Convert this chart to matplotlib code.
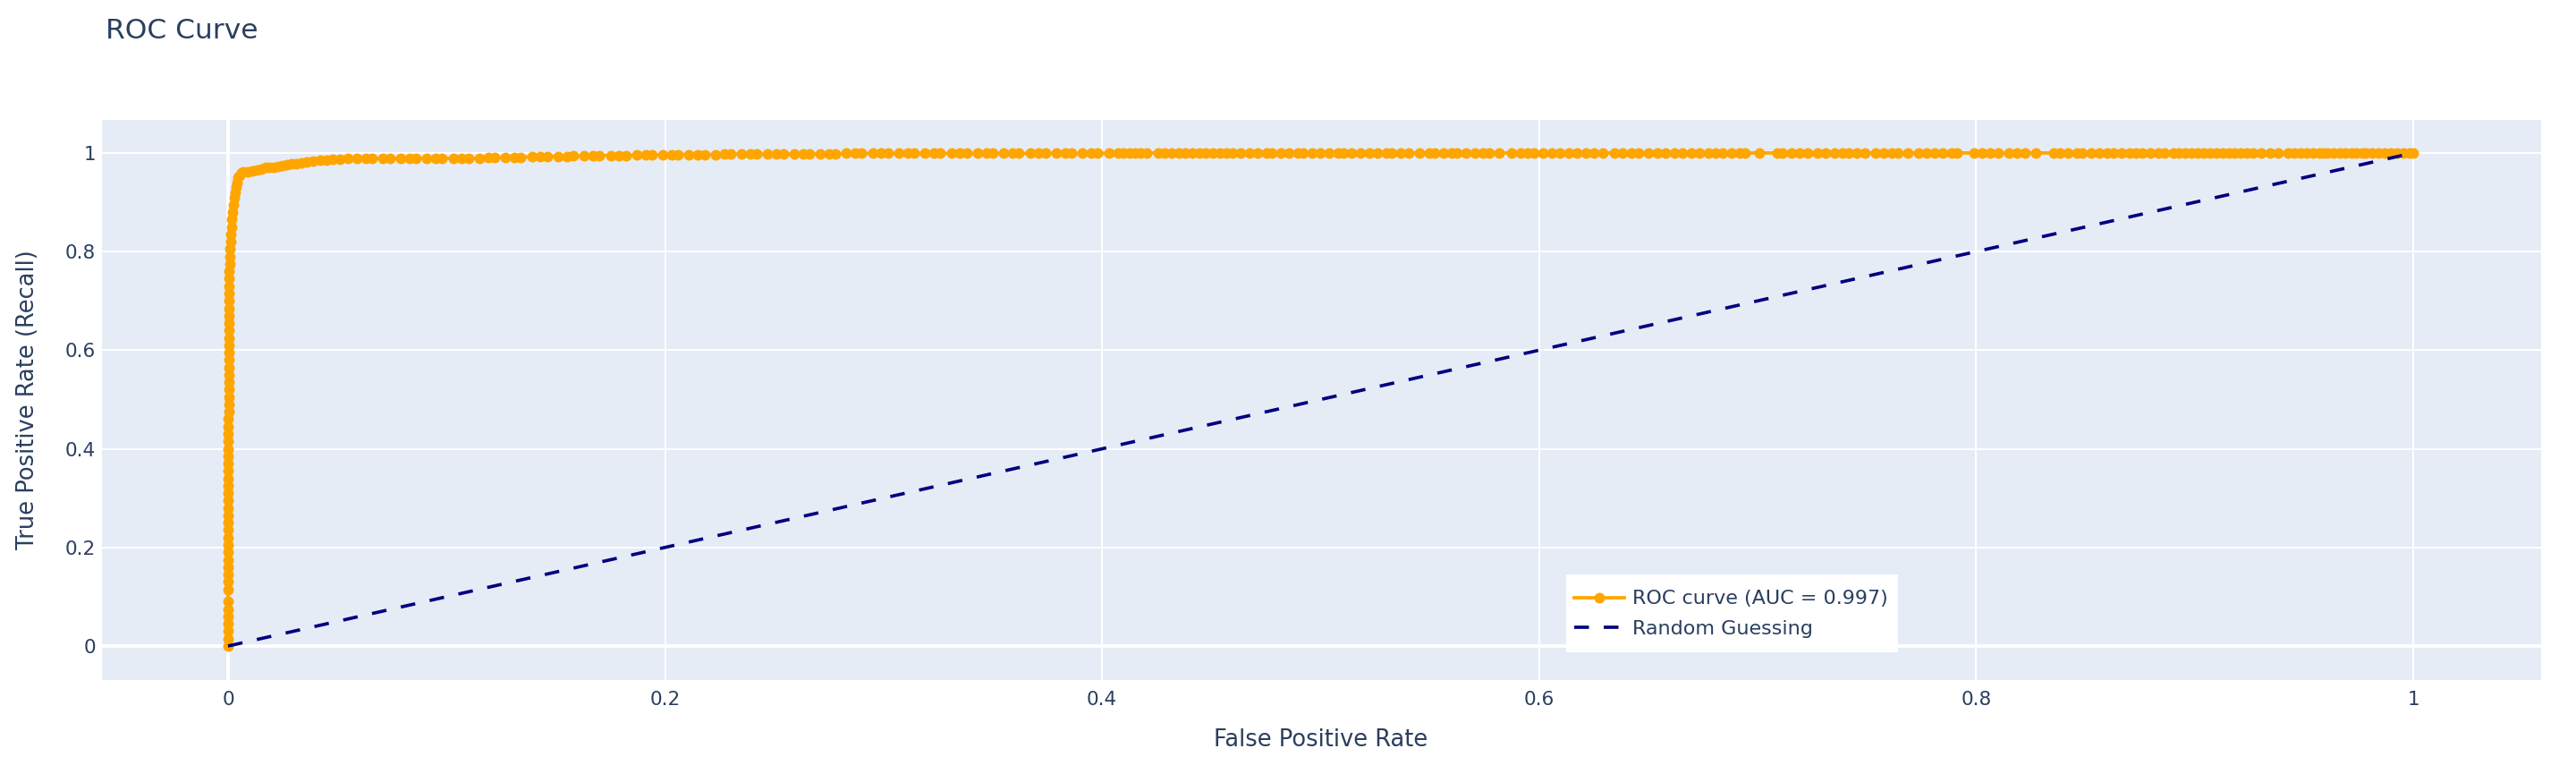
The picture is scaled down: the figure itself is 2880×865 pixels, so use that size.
import matplotlib
matplotlib.use("Agg")
import matplotlib.pyplot as plt
from matplotlib.patches import Rectangle

plt.rcParams['font.family'] = ['DejaVu Sans']

# ---------------- data ----------------
# steep rise near FPR = 0
fpr_rise = [0.0, 0.0, 0.0, 0.0, 0.0, 0.0, 0.0, 0.0, 0.0, 0.0,
            0.0, 0.0, 0.0, 0.0, 0.0, 0.0, 0.0, 0.0, 0.0, 0.0,
            0.0002, 0.0002, 0.0002, 0.0002, 0.0002, 0.0002, 0.0002, 0.0002, 0.0002, 0.0002, 0.0002,
            0.0004, 0.0004, 0.0004, 0.0004, 0.0004, 0.0004, 0.0004, 0.0004, 0.0004, 0.0004, 0.0004, 0.0004,
            0.0006, 0.0006, 0.0006, 0.0006, 0.0006, 0.0006, 0.0006, 0.0006,
            0.0008, 0.0009, 0.0010, 0.0011, 0.0013, 0.0015, 0.0017, 0.0020, 0.0023, 0.0027,
            0.0031, 0.0035, 0.0040, 0.0046, 0.0052, 0.0060]
tpr_rise = [0.000, 0.015, 0.030, 0.045, 0.060, 0.075, 0.090, 0.115, 0.130, 0.145,
            0.160, 0.175, 0.190, 0.205, 0.220, 0.235, 0.250, 0.265, 0.280, 0.295,
            0.310, 0.325, 0.340, 0.355, 0.370, 0.385, 0.400, 0.415, 0.430, 0.445, 0.460,
            0.475, 0.490, 0.505, 0.520, 0.535, 0.550, 0.565, 0.580, 0.595, 0.610, 0.625, 0.640,
            0.655, 0.670, 0.685, 0.700, 0.715, 0.730, 0.745, 0.760,
            0.775, 0.790, 0.805, 0.820, 0.835, 0.850, 0.865, 0.880, 0.895, 0.910,
            0.920, 0.930, 0.940, 0.950, 0.955, 0.960]

# knee of the curve
fpr_knee = [0.0070, 0.0090, 0.0110, 0.0130, 0.0150, 0.0170, 0.0190, 0.0210, 0.0230, 0.0250,
            0.0270, 0.0290, 0.0310, 0.0335, 0.0360, 0.0390, 0.0420, 0.0450, 0.0480, 0.0510,
            0.0550, 0.0590]
tpr_knee = [0.9610, 0.9625, 0.9640, 0.9660, 0.9680, 0.9700, 0.9715, 0.9700, 0.9720, 0.9740,
            0.9760, 0.9775, 0.9785, 0.9800, 0.9815, 0.9830, 0.9845, 0.9855, 0.9865, 0.9875,
            0.9885, 0.9890]

# dense plateau just below 1
fpr_plateau = [0.063, 0.066, 0.071, 0.074, 0.079, 0.083, 0.086, 0.091, 0.095, 0.098,
               0.103, 0.107, 0.110, 0.115, 0.119, 0.122, 0.127, 0.131, 0.134, 0.139,
               0.143, 0.146, 0.151, 0.155, 0.158, 0.163, 0.167, 0.170, 0.175, 0.179,
               0.182, 0.187, 0.191, 0.194, 0.199, 0.203, 0.206, 0.211, 0.215, 0.218,
               0.223, 0.227, 0.230, 0.235, 0.239, 0.242, 0.247, 0.251, 0.254, 0.259,
               0.263, 0.266, 0.271, 0.275, 0.278, 0.283, 0.287, 0.290, 0.295, 0.299,
               0.302, 0.307, 0.311, 0.314, 0.319, 0.323, 0.326, 0.331, 0.335, 0.338,
               0.343, 0.347, 0.350, 0.355, 0.359, 0.362, 0.367, 0.371, 0.374, 0.379,
               0.383, 0.386, 0.391, 0.395, 0.398, 0.403]
tpr_plateau = [0.989, 0.989, 0.989, 0.989, 0.989, 0.989, 0.989, 0.989, 0.989, 0.989,
               0.989, 0.989, 0.989, 0.989, 0.990, 0.990, 0.991, 0.991, 0.991, 0.992,
               0.992, 0.992, 0.993, 0.993, 0.994, 0.994, 0.994, 0.995, 0.995, 0.995,
               0.995, 0.996, 0.996, 0.996, 0.996, 0.997, 0.997, 0.997, 0.997, 0.997,
               0.997, 0.998, 0.998, 0.998, 0.998, 0.998, 0.998, 0.998, 0.998, 0.998,
               0.998, 0.998, 0.998, 0.998, 0.998, 0.999, 0.999, 0.999, 0.999, 0.999,
               0.999, 0.999, 0.999, 0.999, 0.999, 0.999, 0.999, 0.999, 0.999, 0.999,
               0.999, 0.999, 0.999, 0.999, 0.999, 0.999, 0.999, 0.999, 0.999, 0.999,
               0.999, 0.999, 0.999, 0.999, 0.999, 0.999]

# sparse markers at TPR = 1
fpr_tail = [0.4073, 0.4099, 0.4125, 0.4151, 0.4177, 0.4203,
            0.4256, 0.4287, 0.4318, 0.4350, 0.4381, 0.4412, 0.4444, 0.4475, 0.4506, 0.4538, 0.4569,
            0.4595, 0.4634, 0.4673, 0.4712, 0.4752, 0.4778, 0.4817, 0.4856, 0.4895, 0.4921,
            0.4960, 0.4999, 0.5039, 0.5078, 0.5104, 0.5143, 0.5182, 0.5221, 0.5261, 0.5300,
            0.5326, 0.5365, 0.5404, 0.5451, 0.5496, 0.5522, 0.5561, 0.5600, 0.5626, 0.5665,
            0.5704, 0.5743, 0.5770, 0.5816, 0.5874, 0.5913, 0.5947, 0.5978, 0.6017, 0.6057,
            0.6096, 0.6135, 0.6174, 0.6213, 0.6252, 0.6292, 0.6344, 0.6383, 0.6422, 0.6453,
            0.6500, 0.6540, 0.6579, 0.6618, 0.6657, 0.6696, 0.6735, 0.6774, 0.6808, 0.6840,
            0.6879, 0.6918, 0.6944, 0.7009, 0.7088, 0.7114, 0.7153,
            0.7190, 0.7228, 0.7275, 0.7312, 0.7350, 0.7387, 0.7416, 0.7453, 0.7491, 0.7538,
            0.7575, 0.7613, 0.7641, 0.7688, 0.7735, 0.7773, 0.7810, 0.7848, 0.7886, 0.7914,
            0.7989, 0.8027, 0.8064, 0.8102, 0.8149, 0.8186, 0.8224, 0.8271,
            0.8356, 0.8384, 0.8421, 0.8459, 0.8487, 0.8525, 0.8562, 0.8600, 0.8628, 0.8666,
            0.8703, 0.8732, 0.8760, 0.8797, 0.8835, 0.8863, 0.8901, 0.8929, 0.8957, 0.8985,
            0.9014, 0.9042, 0.9070, 0.9098, 0.9126, 0.9155, 0.9183, 0.9211, 0.9239, 0.9267,
            0.9305, 0.9343, 0.9380, 0.9427, 0.9455, 0.9484, 0.9512, 0.9540, 0.9568, 0.9587,
            0.9606, 0.9634, 0.9662, 0.9690, 0.9719, 0.9737, 0.9766, 0.9784, 0.9813, 0.9841,
            0.9869, 0.9897, 0.9925, 0.9953, 0.9982, 1.0000]
tpr_tail = [1.0] * len(fpr_tail)

diag_x = [0.0, 1.0]
diag_y = [0.0, 1.0]

auc_value = 0.997
x_ticks = [0, 0.2, 0.4, 0.6, 0.8, 1]
x_tick_labels = ['0', '0.2', '0.4', '0.6', '0.8', '1']
y_ticks = [0, 0.2, 0.4, 0.6, 0.8, 1]
y_tick_labels = ['0', '0.2', '0.4', '0.6', '0.8', '1']

fpr = fpr_rise + fpr_knee + fpr_plateau + fpr_tail
tpr = tpr_rise + tpr_knee + tpr_plateau + tpr_tail

# ---------------- figure ----------------
TXT = '#2a3f5f'
W, H = 2880, 865
fig = plt.figure(figsize=(W / 100, H / 100), dpi=100)
fig.patch.set_facecolor('white')

L, R, T, B = 114, 2841, 134, 760
ax = fig.add_axes([L / W, 1 - B / H, (R - L) / W, (B - T) / H])
ax.set_facecolor('#E5ECF6')
for s in ax.spines.values():
    s.set_visible(False)

ax.set_xlim(-0.0577, 1.0585)
ax.set_ylim(-0.069, 1.067)
ax.set_xticks(x_ticks)
ax.set_xticklabels(x_tick_labels)
ax.set_yticks(y_ticks)
ax.set_yticklabels(y_tick_labels)
ax.tick_params(axis='both', length=0, labelsize=15.5, colors=TXT)
ax.tick_params(axis='x', pad=9)
ax.tick_params(axis='y', pad=5)
ax.grid(True, color='white', linewidth=1.4, zorder=0)
ax.set_axisbelow(True)
ax.axhline(0, color='white', linewidth=2.8, zorder=0.5)
ax.axvline(0, color='white', linewidth=2.8, zorder=0.5)

ax.plot(fpr, tpr, color='orange', linewidth=2.7, marker='o', markersize=8.6,
        markeredgewidth=0, label=f'ROC curve (AUC = {auc_value:.3f})', zorder=2)
ax.plot(diag_x, diag_y, color='navy', linewidth=2.64, linestyle=(0, (4.5, 4.5)),
        label='Random Guessing', zorder=3)

# legend box (white, no border) sized like the reference
lx0, ly0, lx1, ly1 = 1751, 642, 2122, 729
ax.add_patch(Rectangle((lx0 / W, 1 - ly1 / H), (lx1 - lx0) / W, (ly1 - ly0) / H,
                       transform=fig.transFigure, facecolor='white',
                       edgecolor='none', zorder=4, clip_on=False))
leg = ax.legend(loc='center left', bbox_to_anchor=(1760 / W, 1 - 686 / H),
                bbox_transform=fig.transFigure, borderaxespad=0, borderpad=0,
                frameon=False, fontsize=16, handlelength=2.5, handletextpad=0.42,
                labelspacing=0.6)
leg.set_zorder(5)
for t in leg.get_texts():
    t.set_color(TXT)

fig.text(118 / W, 1 - 43 / H, 'ROC Curve', fontsize=22.5, color=TXT,
         ha='left', va='baseline')
fig.text(1477 / W, 1 - 827 / H, 'False Positive Rate', fontsize=18.5, color=TXT,
         ha='center', va='center')
fig.text(31 / W, 1 - 447 / H, 'True Positive Rate (Recall)', fontsize=18.5, color=TXT,
         ha='center', va='center', rotation=90)

fig.savefig('out.png', dpi=100, facecolor='white')
